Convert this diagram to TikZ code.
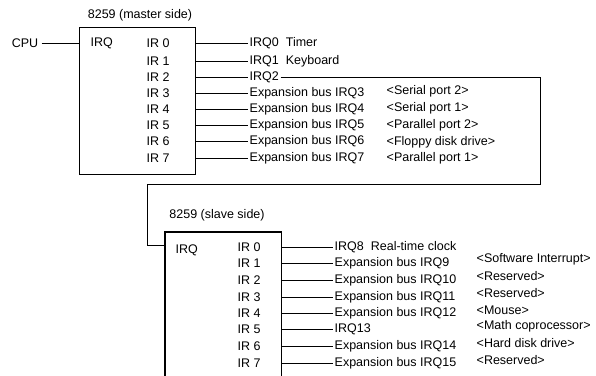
\documentclass[tikz,border=0pt]{standalone}
\usepackage{fontspec}
\setmainfont{Liberation Sans}
\usetikzlibrary{positioning}

\begin{document}
\begin{tikzpicture}[x=1pt, y=-1pt,
  font=\fontsize{12.5}{14}\selectfont,
  chip/.style={draw, line width=1.3pt, anchor=north west, inner sep=0pt},
  txt/.style={anchor=west, inner sep=1.5pt},
  wire/.style={line width=0.8pt}]
\useasboundingbox (0,0) rectangle (596,375);

% master side
\node[chip, minimum width=116pt, minimum height=147pt] (master) at (79,27) {};
\node (mtitle) at (140,15) {8259 (master side)};
\node (cpu) at (25,43) {CPU};
\draw[wire] (cpu.east) -- (master.west |- cpu);
\node[txt] (mirq) at (89,43) {IRQ};
\foreach \i/\y in {0/43,1/61,2/77,3/93,4/109,5/125,6/141,7/158}
  \node[txt] (mir\i) at (145,\y) {IR \i};
\foreach \i/\y/\t in {0/43/{IRQ0\ \ Timer}, 1/61/{IRQ1\ \ Keyboard}, 2/77/{IRQ2},
    3/93/{Expansion bus IRQ3}, 4/109/{Expansion bus IRQ4}, 5/125/{Expansion bus IRQ5},
    6/141/{Expansion bus IRQ6}, 7/158/{Expansion bus IRQ7}} {
  \node[txt] (ml\i) at (248,\y) {\t};
  \draw[wire] (master.east |- ml\i.west) -- (ml\i.west);
}
\foreach \i/\y/\t in {3/91/{<Serial port 2>}, 4/108/{<Serial port 1>}, 5/125/{<Parallel port 2>},
    6/142/{<Floppy disk drive>}, 7/158/{<Parallel port 1>}}
  \node[txt] (mnote\i) at (385,\y) {\t};

% cascade to slave
\node[chip, draw=none, minimum width=115pt, minimum height=143pt] (slave) at (165,232) {};
\draw[line width=1.3pt] (slave.south west) |- (slave.north east) -- (slave.south east);
\coordinate (casR) at (540,184);
\coordinate (casL) at (147,184);
\coordinate (slavein) at (165,245);
\draw[wire] (ml2.east) -| (casR) -- (casL) |- (slavein);

% slave side
\node (stitle) at (217,215) {8259 (slave side)};
\node[txt] (sirq) at (174,250) {IRQ};
\foreach \i/\y in {0/247,1/263,2/280,3/297,4/313,5/329,6/346,7/363}
  \node[txt] (sir\i) at (236,\y) {IR \i};
\foreach \i/\y/\t in {0/247/{IRQ8\hspace{7pt}Real-time clock}, 1/263/{Expansion bus IRQ9},
    2/280/{Expansion bus IRQ10}, 3/297/{Expansion bus IRQ11}, 4/313/{Expansion bus IRQ12},
    5/329/{IRQ13}, 6/346/{Expansion bus IRQ14}, 7/363/{Expansion bus IRQ15}} {
  \node[txt] (sl\i) at (333,\y) {\t};
  \draw[wire] (slave.east |- sl\i.west) -- (sl\i.west);
}
\foreach \i/\y/\t in {1/259/{<Software Interrupt>}, 2/276/{<Reserved>}, 3/293/{<Reserved>},
    4/310/{<Mouse>}, 5/326/{<Math coprocessor>}, 6/343/{<Hard disk drive>}, 7/360/{<Reserved>}}
  \node[txt] (snote\i) at (475,\y) {\t};
\end{tikzpicture}
\end{document}
